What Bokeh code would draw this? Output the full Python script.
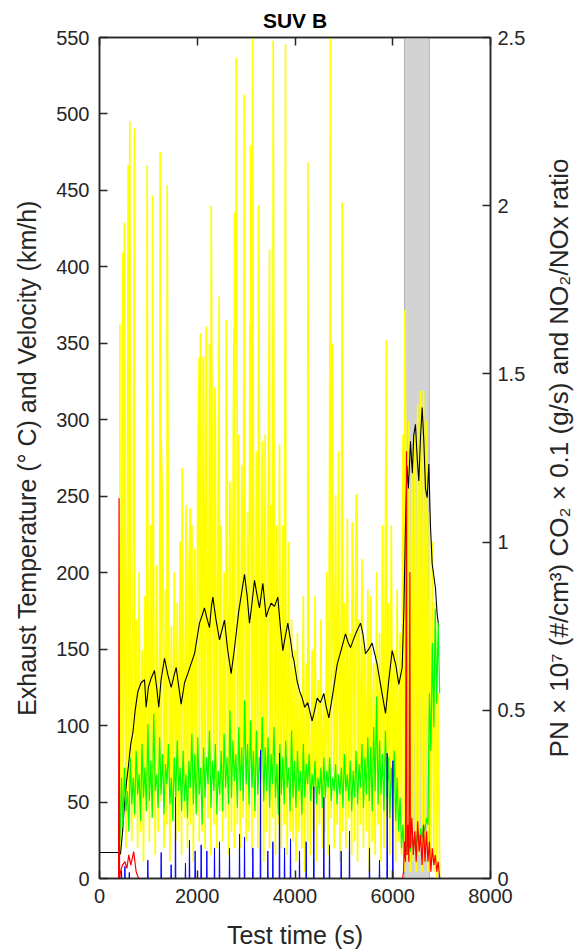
import numpy as np
from bokeh.plotting import figure
from bokeh.layouts import row
from bokeh.models import Range1d, LinearAxis, FixedTicker, BoxAnnotation
from bokeh.embed import file_html
from bokeh.resources import INLINE

# ---------------- data ----------------
# resampled traces: first sample time and step (s)
TIME_START = 420
TIME_STEP = 30

# PN x 1e7 (#/cm3), right axis, base trace every 30 s from 420 s
pn_base = [
    0.07, 0.82, 0.14, 0.95, 0.09, 1.05, 0.16, 0.86, 0.11, 1.00,
    0.18, 0.77, 0.09, 0.91, 0.14, 0.68, 0.05, 0.84, 0.20, 0.95,
    0.11, 1.05, 0.18, 0.80, 0.07, 0.93, 0.14, 0.73, 0.23, 1.09,
    0.09, 0.86, 0.16, 0.98, 0.05, 0.75, 0.18, 0.91, 0.11, 0.82,
    0.14, 1.00, 0.07, 0.80, 0.18, 1.11, 0.09, 0.91, 0.16, 1.05,
    0.05, 0.98, 0.20, 1.18, 0.11, 1.36, 0.14, 1.55, 0.09, 1.27,
    0.18, 1.45, 0.07, 1.14, 0.16, 1.36, 0.09, 1.23, 0.20, 1.05,
    0.11, 0.91, 0.18, 1.32, 0.07, 1.18, 0.14, 1.00, 0.09, 1.59,
    0.16, 1.32, 0.09, 1.23, 0.18, 1.41, 0.11, 1.09, 0.14, 1.64,
    0.07, 1.20, 0.18, 1.27, 0.09, 1.36, 0.16, 1.18, 0.05, 1.32,
    0.14, 1.14, 0.09, 1.11, 0.18, 1.30, 0.07, 1.05, 0.16, 0.95,
    0.09, 1.05, 0.16, 0.86, 0.07, 1.00, 0.14, 0.77, 0.11, 0.68,
    0.05, 0.73, 0.14, 0.55, 0.09, 0.84, 0.02, 0.64, 0.11, 0.50,
    0.07, 0.68, 0.14, 0.84, 0.05, 0.59, 0.16, 0.77, 0.09, 0.55,
    0.14, 0.91, 0.07, 1.36, 0.18, 1.43, 0.09, 1.14, 0.16, 1.27,
    0.05, 0.95, 0.14, 0.82, 0.09, 1.07, 0.18, 0.73, 0.07, 0.91,
    0.11, 1.14, 0.05, 0.77, 0.16, 0.95, 0.09, 0.68, 0.14, 0.86,
    0.02, 0.84, 0.11, 0.64, 0.07, 0.91, 0.16, 0.73, 0.05, 1.05,
    0.09, 1.02, 0.18, 0.82, 0.07, 1.05, 0.14, 0.68, 0.05, 0.86,
    0.11, 0.73, 0.07, 1.32, 0.02, 1.23, 0.05, 1.36, 0.02, 1.27,
    0.05, 1.32, 0.02, 1.41, 0.07, 1.30, 0.02, 1.45, 0.05, 1.36,
    0.02, 1.09, 0.05, 1.00, 0.02, 0.82, 0.00, 0.55, 0.00,
]
# isolated PN peaks (time s, value)
pn_peak_t = [416, 477, 511, 587, 620, 716, 975, 1085, 1241, 1262, 1385, 1398,
             1691, 1855, 2039, 2066, 2121, 2182, 2250, 2285, 2360, 2449, 2592,
             2749, 2763, 2797, 2817, 2961, 3076, 3090, 3131, 3254, 3329, 3479,
             3554, 3683, 3806, 4263, 4727, 4760, 4966, 5170, 5272, 5872, 6247,
             6568]
pn_peak_v = [1.65, 1.86, 1.95, 2.12, 2.25, 2.23, 2.12, 2.03, 2.16, 1.30, 2.06, 1.43,
             1.22, 1.10, 1.55, 1.62, 1.55, 1.64, 1.59, 2.00, 1.46, 1.73, 1.66,
             1.64, 1.98, 2.44, 1.33, 2.33, 1.65, 2.18, 2.50, 2.00, 1.30, 1.87,
             2.49, 1.29, 2.48, 2.13, 2.50, 1.59, 2.01, 1.06, 1.14, 1.60, 1.69,
             1.45]

# CO2 x 0.1 (g/s), right axis, every 30 s from 420 s
co2 = [
    0.12, 0.30, 0.15, 0.33, 0.20, 0.26, 0.14, 0.36, 0.22, 0.30,
    0.19, 0.38, 0.25, 0.31, 0.17, 0.40, 0.24, 0.33, 0.20, 0.46,
    0.23, 0.35, 0.18, 0.49, 0.26, 0.31, 0.21, 0.42, 0.25, 0.37,
    0.19, 0.34, 0.28, 0.40, 0.22, 0.30, 0.17, 0.36, 0.24, 0.41,
    0.26, 0.33, 0.20, 0.38, 0.23, 0.31, 0.18, 0.35, 0.27, 0.43,
    0.22, 0.37, 0.19, 0.42, 0.25, 0.33, 0.16, 0.39, 0.24, 0.36,
    0.28, 0.44, 0.21, 0.35, 0.26, 0.40, 0.19, 0.32, 0.25, 0.38,
    0.20, 0.43, 0.27, 0.36, 0.22, 0.50, 0.24, 0.41, 0.29, 0.37,
    0.21, 0.45, 0.26, 0.39, 0.23, 0.53, 0.28, 0.40, 0.22, 0.47,
    0.27, 0.38, 0.20, 0.44, 0.25, 0.36, 0.29, 0.48, 0.23, 0.39,
    0.26, 0.42, 0.21, 0.37, 0.28, 0.45, 0.24, 0.34, 0.19, 0.40,
    0.25, 0.36, 0.22, 0.41, 0.27, 0.33, 0.20, 0.44, 0.24, 0.35,
    0.21, 0.38, 0.26, 0.32, 0.19, 0.40, 0.24, 0.34, 0.28, 0.37,
    0.23, 0.31, 0.26, 0.35, 0.22, 0.30, 0.25, 0.33, 0.21, 0.36,
    0.24, 0.32, 0.27, 0.36, 0.23, 0.30, 0.26, 0.34, 0.22, 0.31,
    0.25, 0.33, 0.21, 0.37, 0.26, 0.31, 0.23, 0.35, 0.20, 0.32,
    0.24, 0.38, 0.22, 0.34, 0.27, 0.40, 0.21, 0.36, 0.25, 0.42,
    0.23, 0.39, 0.20, 0.45, 0.26, 0.54, 0.22, 0.41, 0.25, 0.37,
    0.20, 0.44, 0.24, 0.36, 0.18, 0.33, 0.22, 0.38, 0.17, 0.30,
    0.14, 0.24, 0.09, 0.16, 0.06, 0.10, 0.07, 0.11, 0.08, 0.12,
    0.09, 0.13, 0.10, 0.14, 0.11, 0.15, 0.12, 0.16, 0.14, 0.18,
    0.16, 0.55, 0.38, 0.70, 0.45, 0.80, 0.52, 0.76, 0.55,
]
co2_idle_t = [0, 400, 410]
co2_idle_v = [0.0, 0.0, 0.10]

# exhaust temperature (deg C), left axis
temp_t = [0, 400, 430, 470, 510, 546, 600, 640, 682, 730, 783, 850, 921, 955, 1000,
          1057, 1125, 1170, 1213, 1260, 1330, 1400, 1467, 1520, 1569, 1620, 1671,
          1740, 1807, 1870, 1944, 2000, 2046, 2100, 2148, 2200, 2251, 2290, 2319,
          2380, 2455, 2510, 2558, 2620, 2694, 2760, 2850, 2967, 3020, 3069, 3120,
          3171, 3220, 3273, 3342, 3410, 3460, 3512, 3580, 3649, 3700, 3751, 3800,
          3853, 3908, 3955, 3976, 4044, 4100, 4147, 4200, 4260, 4351, 4400, 4454,
          4520, 4590, 4640, 4693, 4780, 4863, 4950, 5033, 5080, 5135, 5240, 5340,
          5390, 5442, 5510, 5579, 5630, 5681, 5760, 5852, 5920, 5988, 6060, 6125,
          6193, 6227, 6260, 6290, 6320, 6363, 6400, 6430, 6465, 6500, 6533, 6570,
          6602, 6636, 6670, 6704, 6738, 6770, 6806, 6840, 6874, 6908, 6940]
temp_v = [17, 17, 16, 30, 48, 61, 76, 88, 95, 110, 122, 128, 130, 112, 125,
          131, 136, 125, 112, 130, 144, 133, 125, 132, 138, 126, 114,
          128, 134, 140, 147, 158, 167, 172, 177, 170, 164, 178, 184,
          170, 156, 163, 169, 150, 134, 150, 175, 199, 185, 167, 180,
          195, 186, 177, 193, 171, 176, 180, 178, 184, 165, 149, 158,
          167, 156, 145, 143, 129, 122, 118, 112, 115, 103, 110, 118,
          115, 121, 112, 105, 122, 140, 150, 160, 155, 151, 160, 167,
          160, 147, 150, 154, 147, 140, 125, 108, 130, 149, 140, 127,
          138, 175, 230, 270, 255, 286, 265, 290, 297, 275, 260, 290,
          308, 286, 255, 249, 271, 232, 206, 198, 190, 173, 165]

# NO2/NOx ratio, right axis
ratio_t = [390, 400, 410, 430, 470, 520, 560, 600, 640, 700, 750, 800, 6200, 6220,
           6240, 6260, 6281, 6290, 6310, 6330, 6350, 6360, 6390, 6420, 6450, 6480,
           6510, 6540, 6570, 6600, 6630, 6660, 6690, 6720, 6750, 6780, 6810, 6840,
           6870, 6900, 6930, 6960]
ratio_v = [0, 1.13, 0, 0.02, 0.04, 0.05, 0.03, 0.07, 0.04, 0.08, 0.02, 0, 0, 0.02,
           0.11, 0.05, 1.27, 0.07, 0.16, 0.05, 0.91, 0.09, 0.18, 0.07, 0.14, 0.05,
           0.17, 0.08, 0.13, 0.04, 0.16, 0.05, 0.14, 0.05, 0.11, 0.02, 0.09, 0.04,
           0.07, 0.02, 0.05, 0]

# velocity (km/h), left axis: isolated peaks over a zero baseline
vel_span = [400, 6960]
vel_peak_t = [450, 520, 610, 989, 1262, 1466, 1555, 1759, 1841, 1957, 2080, 2196,
              2353, 2455, 2660, 2865, 2967, 3138, 3294, 3444, 3547, 3683, 3786,
              3908, 4092, 4229, 4385, 4590, 4706, 4945, 5115, 5524, 5729, 5886,
              6002, 6956]
vel_peak_v = [5, 8, 4, 12, 17, 9, 53, 10, 25, 18, 22, 18,
              20, 24, 20, 29, 27, 20, 84, 18, 24, 82, 20,
              26, 18, 24, 60, 53, 22, 18, 31, 20, 12, 82,
              77, 3]

# cold-start / event window (s)
band = [6240, 6750]

# axes
x_ticks = [0, 2000, 4000, 6000, 8000]
left_ticks = [0, 50, 100, 150, 200, 250, 300, 350, 400, 450, 500, 550]
right_ticks = [0, 0.5, 1, 1.5, 2, 2.5]
right_tick_labels = ["0", "0.5", "1", "1.5", "2", "2.5"]

# ---------------- build series ----------------
t_grid = TIME_START + TIME_STEP * np.arange(len(pn_base))
pn_t = np.concatenate([t_grid, np.array(pn_peak_t, float)])
pn_v = np.concatenate([np.array(pn_base), np.array(pn_peak_v)])
order = np.argsort(pn_t, kind="stable")
pn_t, pn_v = pn_t[order], pn_v[order]

co2_t = np.concatenate([np.array(co2_idle_t, float),
                        TIME_START + TIME_STEP * np.arange(len(co2))])
co2_v = np.concatenate([np.array(co2_idle_v), np.array(co2)])

vt, vv = [vel_span[0]], [0]
for t, v in zip(vel_peak_t, vel_peak_v):
    vt += [t - 6, t, t + 6]
    vv += [0, v, 0]
vt.append(vel_span[1]); vv.append(0)

# ---------------- figure ----------------
FONT = "Liberation Sans"
TXT = "#262626"
FRAME_H = 841
TOP, BOTTOM = 37, 66

p = figure(frame_width=391, frame_height=FRAME_H,
           x_range=Range1d(0, 8000), y_range=Range1d(0, 550),
           output_backend="svg", toolbar_location=None,
           min_border_left=99, min_border_right=40,
           min_border_top=TOP, min_border_bottom=BOTTOM,
           background_fill_color="white", border_fill_color="white")
p.extra_y_ranges = {"right": Range1d(0, 2.5)}
p.xgrid.visible = False
p.ygrid.visible = False
p.outline_line_color = TXT
p.outline_line_width = 1.5

p.add_layout(BoxAnnotation(left=band[0], right=band[1], fill_color="#d3d3d3",
                           fill_alpha=1.0, line_color="#3a3a3a", line_width=1,
                           level="underlay"))

p.line(pn_t, pn_v, line_color="#ffff00", line_width=1.7, y_range_name="right")
p.line(temp_t, temp_v, line_color="black", line_width=1.1)
p.line(co2_t, co2_v, line_color="#00ff00", line_width=1.2, y_range_name="right")
p.line(vt, vv, line_color="#0000ff", line_width=1)
p.line(ratio_t, ratio_v, line_color="#ff0000", line_width=1.2, y_range_name="right")


def style(ax, ticks):
    ax.ticker = FixedTicker(ticks=ticks)
    ax.major_tick_in = 8
    ax.major_tick_out = 0
    ax.minor_tick_in = 0
    ax.minor_tick_out = 0
    ax.axis_line_color = TXT
    ax.axis_line_width = 1.5
    ax.major_tick_line_color = TXT
    ax.major_tick_line_width = 1.5
    ax.major_label_text_font = FONT
    ax.major_label_text_font_size = "20px"
    ax.major_label_text_color = TXT
    ax.axis_label_text_font = FONT
    ax.axis_label_text_font_size = "25px"
    ax.axis_label_text_font_style = "normal"
    ax.axis_label_text_color = TXT


xa = p.xaxis[0]
style(xa, x_ticks)
xa.axis_label = "Test time (s)"
xa.major_label_standoff = 10
xa.axis_label_standoff = 15

ya = p.yaxis[0]
style(ya, left_ticks)
ya.axis_label = "Exhaust Temperature (\u00b0 C) and Velocity (km/h)"
ya.major_label_standoff = 10
ya.axis_label_standoff = 12

ra = LinearAxis(y_range_name="right")
style(ra, right_ticks)
ra.major_label_overrides = {k: s for k, s in zip(right_ticks, right_tick_labels)}
ra.major_label_standoff = 7
p.add_layout(ra, "right")

# top frame edge with inward ticks; its axis label carries the chart title
ta = LinearAxis()
style(ta, x_ticks)
ta.major_label_overrides = {k: "" for k in x_ticks}
ta.major_label_text_font_size = "1px"
ta.major_label_standoff = 0
ta.axis_label = "SUV B"
ta.axis_label_text_font_style = "bold"
ta.axis_label_text_font_size = "21px"
ta.axis_label_text_color = "black"
ta.axis_label_standoff = 6
p.add_layout(ta, "above")

# narrow companion panel carrying the right-hand axis title (reads bottom-to-top)
q = figure(frame_width=1, frame_height=FRAME_H,
           x_range=Range1d(0, 1), y_range=Range1d(0, 2.5),
           output_backend="svg", toolbar_location=None,
           min_border_left=45, min_border_right=2,
           min_border_top=TOP, min_border_bottom=BOTTOM,
           background_fill_color="white", border_fill_color="white")
q.outline_line_color = None
q.xgrid.visible = False
q.ygrid.visible = False
q.xaxis.visible = False
qa = q.yaxis[0]
qa.ticker = FixedTicker(ticks=[])
qa.axis_line_color = None
qa.major_tick_line_color = None
qa.minor_tick_line_color = None
qa.major_label_text_font_size = "1px"
qa.axis_label = "PN \u00d7 10\u2077 (#/cm\u00b3) CO\u2082 \u00d7 0.1 (g/s) and NO\u2082/NOx ratio"
qa.axis_label_text_font = FONT
qa.axis_label_text_font_size = "26px"
qa.axis_label_text_font_style = "normal"
qa.axis_label_text_color = TXT
qa.axis_label_standoff = 2

layout = row(p, q, spacing=0)
open("out.html", "w").write(file_html(layout, INLINE))
